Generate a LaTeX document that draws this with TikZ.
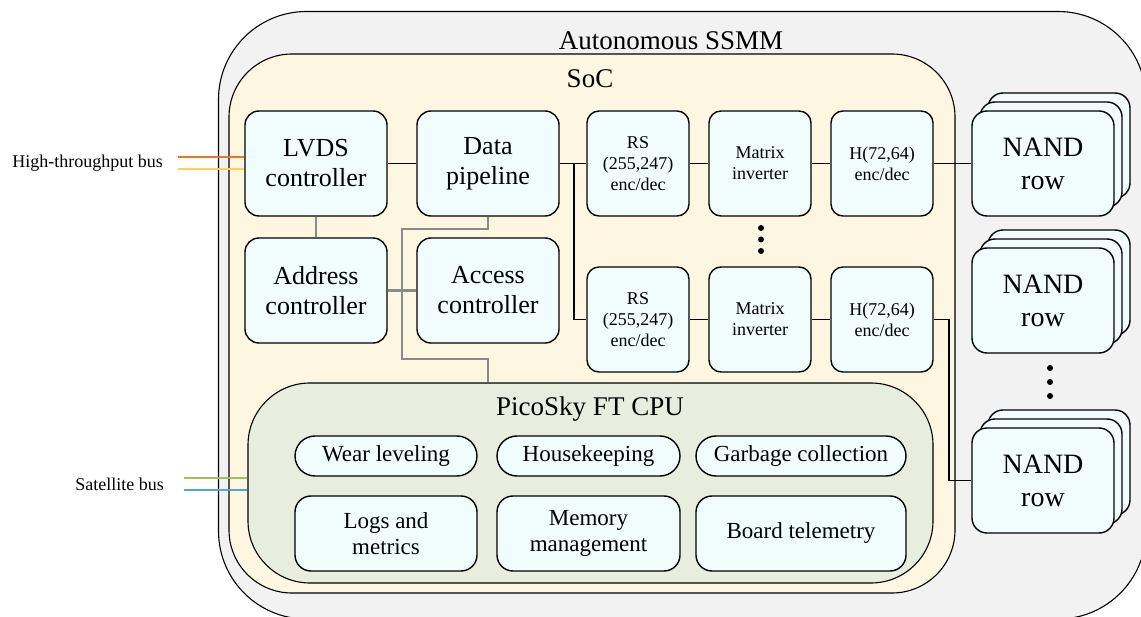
\documentclass[tikz,border=0pt]{standalone}
\usepackage{fontspec}
\setmainfont{Liberation Serif}
\definecolor{outerfill}{HTML}{F2F2F2}
\definecolor{socfill}{HTML}{FDF6E1}
\definecolor{cpufill}{HTML}{E7EEDE}
\definecolor{boxfill}{HTML}{F1FDFD}
\definecolor{greyline}{HTML}{8A8A8A}
\definecolor{busorange}{HTML}{EB7424}
\definecolor{busyellow}{HTML}{FFD24D}
\definecolor{busgreen}{HTML}{A2BF5E}
\definecolor{busblue}{HTML}{4DAACB}
\tikzset{
  container/.style={draw=black, line width=1.1pt, inner sep=0pt},
  blk/.style={draw=black, line width=1.4pt, fill=boxfill, rounded corners=14pt, align=center, inner sep=0pt,
    minimum width=142pt, minimum height=105pt, font=\fontsize{26}{30}\selectfont},
  ecc/.style={blk, rounded corners=12pt, minimum width=102pt, font=\fontsize{18}{21}\selectfont},
  nandbox/.style={blk, rounded corners=15pt, font=\fontsize{28}{33}\selectfont},
  pill/.style={draw=black, line width=1.4pt, fill=boxfill, rounded corners=20pt, align=center, inner sep=0pt,
    minimum height=40pt, font=\fontsize{23}{26}\selectfont},
  task/.style={pill, rounded corners=16pt, minimum height=75pt},
  title/.style={font=\fontsize{27}{30}\selectfont, inner sep=0pt},
  buslabel/.style={font=\fontsize{18}{21}\selectfont, inner sep=0pt, anchor=east},
  blackline/.style={draw=black, line width=1.8pt},
  greyconn/.style={draw=greyline, line width=2.6pt},
  busline/.style={line width=2.2pt},
  dotmark/.style={circle, fill=black, inner sep=0pt, minimum size=6pt},
}
\begin{document}
\begin{tikzpicture}[x=1pt,y=-1pt]
\useasboundingbox (0,0) rectangle (1141,617);
% containers
\node[container, fill=outerfill, rounded corners=88pt, minimum width=927.5pt, minimum height=607.5pt] (ssmm) at (682.25,315.25) {};
\node[title] (ssmmt) at (671,41) {Autonomous SSMM};
\node[container, fill=socfill, rounded corners=63pt, minimum width=726pt, minimum height=539pt] (soc) at (592,323.5) {};
\node[title] (soct) at (590,79) {SoC};
\node[container, fill=cpufill, rounded corners=62pt, minimum width=685pt, minimum height=200pt] (cpu) at (590.5,483) {};
\node[title] (cput) at (590,409) {PicoSky FT CPU};
% main blocks
\node[blk] (lvds) at (316,163.5) {LVDS\\controller};
\node[blk] (data) at (488,163.5) {Data\\pipeline};
\node[blk] (addr) at (316,290.5) {Address\\controller};
\node[blk] (acc) at (488,290.5) {Access\\controller};
% ECC chains
\node[ecc] (rs1) at (638,163.5) {RS\\(255,247)\\enc/dec};
\node[ecc] (mat1) at (760,163.5) {Matrix\\inverter};
\node[ecc] (h1) at (882,163.5) {H(72,64)\\enc/dec};
\node[ecc] (rs2) at (638,319.5) {RS\\(255,247)\\enc/dec};
\node[ecc] (mat2) at (760,319.5) {Matrix\\inverter};
\node[ecc] (h2) at (882,319.5) {H(72,64)\\enc/dec};
\node[dotmark] (d1) at (761,228) {};
\node[dotmark] (d2) at (761,239.5) {};
\node[dotmark] (d3) at (761,251) {};
% NAND stacks
\foreach \n/\y in {nandA/163.5, nandB/300.5, nandC/480.5}{
  \node[nandbox] (\n3) at (1059,\y-18) {};
  \node[nandbox] (\n2) at (1051,\y-9) {};
  \node[nandbox] (\n) at (1043,\y) {NAND\\row};
}
\node[dotmark] (nd1) at (1050,368) {};
\node[dotmark] (nd2) at (1050,382) {};
\node[dotmark] (nd3) at (1050,396) {};
% CPU tasks
\node[pill, minimum width=182pt] (wear) at (386,456) {Wear leveling};
\node[pill, minimum width=183pt] (house) at (588.5,456) {Housekeeping};
\node[pill, minimum width=210pt] (garb) at (801,456) {Garbage collection};
\node[task, minimum width=182pt] (logs) at (386,533.5) {Logs and\\metrics};
\node[task, minimum width=183pt] (mem) at (588.5,533.5) {Memory\\management};
\node[task, minimum width=210pt] (board) at (801,533.5) {Board telemetry};
% black connectors
\draw[blackline] (lvds.east) -- (data.west);
\draw[blackline] (data.east) -- (rs1.west);
\coordinate (br) at (574,163.5);
\draw[blackline] (br) |- (rs2.west);
\draw[blackline] (rs1.east) -- (mat1.west);
\draw[blackline] (mat1.east) -- (h1.west);
\draw[blackline] (h1.east) -- (nandA.west);
\draw[blackline] (rs2.east) -- (mat2.west);
\draw[blackline] (mat2.east) -- (h2.west);
\coordinate (hb) at (949,319.5);
\draw[blackline] (h2.east) -- (hb) |- (nandC.west);
% grey connectors
\draw[greyconn] (lvds.south) -- (addr.north);
\draw[greyconn] (addr.east) -- (acc.west);
\coordinate (g1) at (402,229);
\coordinate (g2) at (488,359);
\draw[greyconn] (data.south) |- (g1) |- (g2) -- (g2 |- cpu.north);
% buses
\coordinate (hbA) at (178,157);
\coordinate (hbB) at (178,169);
\draw[busline, busorange] (hbA) -- (hbA -| lvds.west);
\draw[busline, busyellow] (hbB) -- (hbB -| lvds.west);
\node[buslabel] (hbl) at (163,163) {High-throughput bus};
\coordinate (sbA) at (184,478);
\coordinate (sbB) at (184,490);
\draw[busline, busgreen] (sbA) -- (sbA -| cpu.west);
\draw[busline, busblue] (sbB) -- (sbB -| cpu.west);
\node[buslabel] (sbl) at (164,484) {Satellite bus};
\end{tikzpicture}
\end{document}
